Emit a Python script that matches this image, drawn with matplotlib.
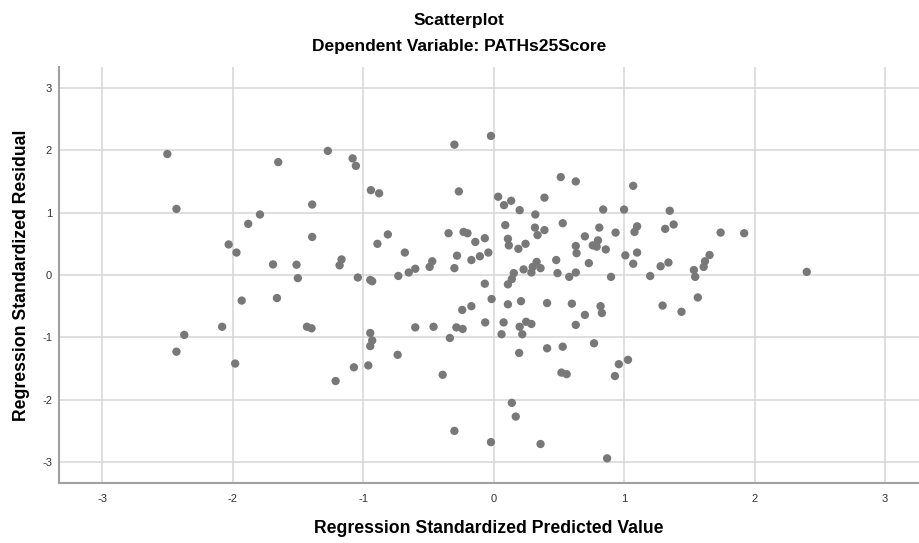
import numpy as np
import matplotlib
matplotlib.use("Agg")
import matplotlib.pyplot as plt

plt.rcParams['font.family'] = ['Liberation Sans', 'DejaVu Sans']
plt.rcParams['axes.unicode_minus'] = False

# standardized predicted value (x) and standardized residual (y)
pred = [
    -2.50, -1.65, -1.27, -1.08, -1.055, -2.43, -1.39, -1.79, -1.88, -1.39,
    -2.03, -1.97, -1.69, -1.51, -1.165, -1.18, -1.50, -1.04, -1.93, -1.66,
    -2.08, -2.37, -2.43, -1.98, -1.43, -1.395, -1.07, -1.21,
    -0.94, -0.877, -0.30, -0.02, -0.266, 0.035, 0.08, 0.135, 0.20, 0.32,
    0.39, 0.515, 0.63, 0.84, 1.00, 1.07, 0.09, 0.317, 0.337, 0.39,
    0.53, 0.11, 0.117, 0.19, 0.245, 0.70, 0.81, 0.80, 0.76, 0.79,
    0.86, 0.63, 0.636, 0.935, 1.08, 1.10, 1.01, 1.07, 1.10, 0.73,
    0.48, 0.49, 0.58, 0.63, 0.90, -0.81, -0.89, -0.68, -0.73, -0.65,
    -0.60, -0.49, -0.47, -0.345, -0.23, -0.20, -0.14, -0.067, -0.28, -0.17,
    -0.105, -0.04, -0.30, -0.945, -0.93, 0.155, 0.23, 0.30, 0.33, 0.29,
    0.36, -0.067, -0.015, 0.11, 0.14, 0.11, 0.21, 0.41, 0.60, -0.24,
    -0.17, -0.064, 0.077, 0.061, 0.20, 0.22, 0.25, 0.29, 0.196, -0.60,
    -0.46, -0.285, -0.237, -0.335, -0.945, -0.93, -0.945, -0.96, -0.735, -0.39,
    0.41, 0.53, 0.63, 0.70, 0.82, 0.83, 0.77, 0.52, 0.56, 0.93,
    0.96, 1.03, 0.14, 0.17, -0.30, -0.02, 0.36, 0.87,
    1.35, 1.315, 1.38, 1.74, 1.92, 1.28, 1.34, 1.20, 1.535, 1.545,
    1.61, 1.62, 1.655, 2.40, 1.565, 1.295, 1.44,
]
resid = [
    1.94, 1.81, 1.99, 1.87, 1.75, 1.06, 1.13, 0.97, 0.82, 0.61,
    0.49, 0.36, 0.17, 0.165, 0.25, 0.155, -0.05, -0.04, -0.41, -0.37,
    -0.83, -0.96, -1.23, -1.42, -0.83, -0.855, -1.48, -1.70,
    1.36, 1.31, 2.09, 2.23, 1.34, 1.255, 1.12, 1.19, 1.04, 0.97,
    1.24, 1.57, 1.50, 1.05, 1.05, 1.43, 0.80, 0.76, 0.64, 0.72,
    0.83, 0.58, 0.475, 0.42, 0.50, 0.62, 0.76, 0.555, 0.475, 0.455,
    0.41, 0.465, 0.35, 0.68, 0.69, 0.78, 0.315, 0.18, 0.36, 0.19,
    0.24, 0.03, -0.03, 0.04, -0.03, 0.65, 0.50, 0.36, -0.015, 0.04,
    0.10, 0.13, 0.22, 0.67, 0.69, 0.67, 0.53, 0.59, 0.31, 0.24,
    0.30, 0.36, 0.11, -0.08, -0.10, 0.03, 0.09, 0.13, 0.21, 0.04,
    0.11, -0.14, -0.385, -0.15, -0.065, -0.47, -0.42, -0.45, -0.46, -0.56,
    -0.50, -0.76, -0.76, -0.95, -0.83, -0.95, -0.75, -0.785, -1.25, -0.84,
    -0.83, -0.84, -0.865, -1.01, -0.93, -1.05, -1.14, -1.45, -1.28, -1.60,
    -1.175, -1.15, -0.80, -0.64, -0.50, -0.61, -1.095, -1.565, -1.59, -1.62,
    -1.43, -1.36, -2.05, -2.27, -2.50, -2.68, -2.71, -2.94,
    1.03, 0.74, 0.81, 0.68, 0.67, 0.14, 0.20, -0.016, 0.08, -0.03,
    0.13, 0.22, 0.32, 0.05, -0.36, -0.49, -0.59,
]
ticks = [-3, -2, -1, 0, 1, 2, 3]

fig = plt.figure(figsize=(9.19, 5.43), dpi=100)
ax = fig.add_axes([59 / 919, 1 - 483.3 / 543, 860 / 919, 416.6 / 543])

ax.scatter(pred, resid, s=36, color="#787878", edgecolors="none", zorder=3)

ax.set_xlim(-3.33, 3.26)
ax.set_ylim(-3.34, 3.34)
ax.set_xticks(ticks)
ax.set_yticks(ticks)
ax.grid(True, color="#d6d6d6", linewidth=1.1)
ax.set_axisbelow(True)
for side in ["top", "right"]:
    ax.spines[side].set_visible(False)
for side in ["left", "bottom"]:
    ax.spines[side].set_color("#a0a0a0")
    ax.spines[side].set_linewidth(1.5)
ax.tick_params(length=0, labelsize=8, labelcolor="#333333")
ax.tick_params(axis="x", pad=8)
ax.tick_params(axis="y", pad=5)

ax.set_xlabel("Regression Standardized Predicted Value", fontsize=12.7, fontweight="bold", labelpad=11)
ax.set_ylabel("Regression Standardized Residual", fontsize=12.7, fontweight="bold", labelpad=9)

fig.text(0.5, 1 - 20 / 543, "Scatterplot", ha="center", va="center", fontsize=12.5, fontweight="bold")
fig.text(0.5, 1 - 47 / 543, "Dependent Variable: PATHs25Score", ha="center", va="center",
         fontsize=12.5, fontweight="bold")

fig.savefig("out.png", dpi=100)
